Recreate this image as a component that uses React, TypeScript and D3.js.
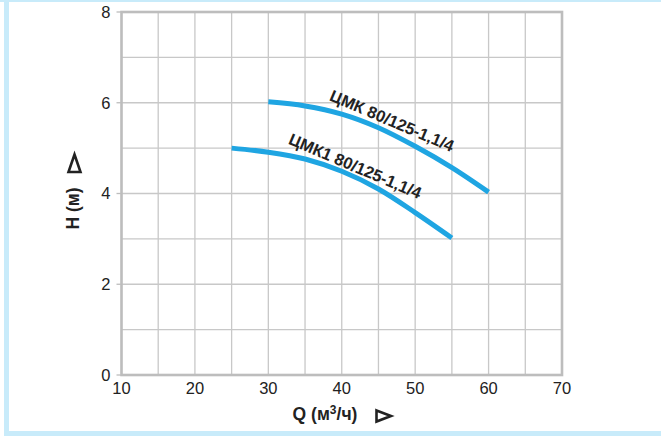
import React from "react";
import * as d3 from "d3";

const xTicks = [10, 20, 30, 40, 50, 60, 70];
const yTicks = [0, 2, 4, 6, 8];
const xGrid = [10, 15, 20, 25, 30, 35, 40, 45, 50, 55, 60, 65, 70];
const yGrid = [0, 1, 2, 3, 4, 5, 6, 7, 8];

const seriesNames = ["ЦМК 80/125-1,1/4", "ЦМК1 80/125-1,1/4"];
const q1 = [30, 35, 40, 45, 50, 55, 60];
const h1 = [6.02, 5.93, 5.75, 5.45, 5.04, 4.57, 4.03];
const q2 = [25, 30, 35, 40, 45, 50, 55];
const h2 = [5.0, 4.91, 4.76, 4.49, 4.1, 3.58, 3.02];
// label anchors (data space) and angle
const labelQ = [38.2, 32.6];
const labelH = [6.06, 5.1];
const labelAngle = [23, 23];

const W = 661;
const H = 439;

export default function App() {
  const x = d3.scaleLinear().domain([10, 70]).range([121.5, 562]);
  const y = d3.scaleLinear().domain([0, 8]).range([375, 12]);
  const line = d3
    .line<[number, number]>()
    .x((d) => x(d[0]))
    .y((d) => y(d[1]))
    .curve(d3.curveMonotoneX);
  const series = [
    q1.map((q, i) => [q, h1[i]] as [number, number]),
    q2.map((q, i) => [q, h2[i]] as [number, number]),
  ];
  const blue = "#c8ebfa";
  const font = "'Liberation Sans', Arial, sans-serif";
  return (
    <svg
      width={W}
      height={H}
      style={{ position: "absolute", left: 0, top: 0, background: "#fff" }}
    >
      {/* frame */}
      <rect x={0} y={0} width={W} height={2} fill={blue} />
      <rect x={4} y={0} width={5} height={436} fill={blue} />
      <rect x={4} y={431} width={W - 4} height={5} fill={blue} />

      {/* grid */}
      {xGrid.map((g) => (
        <line
          key={"xg" + g}
          x1={x(g)}
          x2={x(g)}
          y1={y(0)}
          y2={y(8)}
          stroke="#c8c8c8"
          strokeWidth={1.3}
        />
      ))}
      {yGrid.map((g) => (
        <line
          key={"yg" + g}
          x1={x(10)}
          x2={x(70)}
          y1={y(g)}
          y2={y(g)}
          stroke="#c8c8c8"
          strokeWidth={1.3}
        />
      ))}
      <rect
        x={x(10)}
        y={y(8)}
        width={x(70) - x(10)}
        height={y(0) - y(8)}
        fill="none"
        stroke="#bdbdbd"
        strokeWidth={2.6}
      />
      {/* y ticks */}
      {yTicks.map((t) => (
        <g key={"yt" + t}>
          <line
            x1={x(10) - 5}
            x2={x(10)}
            y1={y(t)}
            y2={y(t)}
            stroke="#bdbdbd"
            strokeWidth={1.3}
          />
          <text
            x={x(10) - 11}
            y={y(t)}
            dy="0.36em"
            textAnchor="end"
            fontFamily={font}
            fontSize={16.5}
            fill="#222"
          >
            {t}
          </text>
        </g>
      ))}
      {xTicks.map((t) => (
        <text
          key={"xt" + t}
          x={x(t)}
          y={394}
          textAnchor="middle"
          fontFamily={font}
          fontSize={16.5}
          fill="#222"
        >
          {t}
        </text>
      ))}

      {/* curves */}
      {series.map((s, i) => (
        <path
          key={"s" + i}
          d={line(s) || ""}
          fill="none"
          stroke="#1fa5e2"
          strokeWidth={5}
        />
      ))}
      {seriesNames.map((n, i) => (
        <text
          key={"l" + i}
          transform={`translate(${x(labelQ[i])},${y(labelH[i])}) rotate(${labelAngle[i]})`}
          fontFamily={font}
          fontWeight="bold"
          fontSize={16.5}
          fill="#222"
        >
          {n}
        </text>
      ))}

      {/* x axis title */}
      <text
        x={325}
        y={420}
        textAnchor="middle"
        fontFamily={font}
        fontWeight="bold"
        fontSize={17.5}
        fill="#222"
      >
        Q (м
        <tspan dy={-6} fontSize={12}>
          3
        </tspan>
        <tspan dy={6}>/ч)</tspan>
      </text>
      <path
        d="M376.5,410.5 L391,416 L376.5,421.5 Z"
        fill="none"
        stroke="#222"
        strokeWidth={2.6}
        strokeLinejoin="miter"
      />

      {/* y axis title */}
      <text
        transform="translate(78.5,208.5) rotate(-90)"
        textAnchor="middle"
        fontFamily={font}
        fontWeight="bold"
        fontSize={17.5}
        fill="#222"
      >
        H (м)
      </text>
      <path
        d="M74.5,154.5 L80.5,172 L68.5,172 Z"
        fill="none"
        stroke="#222"
        strokeWidth={2.6}
        strokeLinejoin="miter"
      />
    </svg>
  );
}
